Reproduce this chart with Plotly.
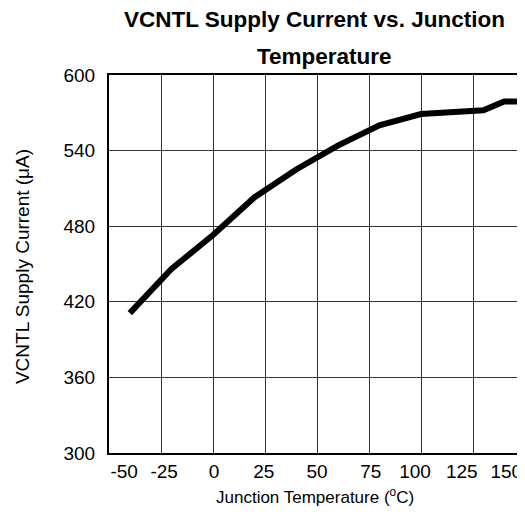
import plotly.graph_objects as go

# Data
temp_c = [-40, -20, 0, 20, 40, 60, 80, 100, 120, 130, 140, 150]
supply_ua = [411, 446, 473, 503, 525, 544, 560, 569, 571, 572, 579, 579]

x_labels = ["-50", "-25", "0", "25", "50", "75", "100", "125", "150"]
x_label_pos = [-42.7, -23.5, 0.5, 24.4, 50, 75.9, 97.1, 119.6, 141]
y_ticks = [300, 360, 420, 480, 540, 600]

FONT = "Liberation Sans, Arial, sans-serif"

fig = go.Figure()
fig.add_trace(go.Scatter(
    x=temp_c, y=supply_ua, mode="lines",
    line=dict(color="black", width=6),
    showlegend=False, hoverinfo="skip",
))
# invisible helper trace to activate the label axis
fig.add_trace(go.Scatter(x=[None], y=[None], xaxis="x2", mode="lines",
                         showlegend=False, hoverinfo="skip"))

fig.update_layout(
    width=517, height=509,
    margin=dict(l=101, r=0, t=67, b=64),
    paper_bgcolor="white", plot_bgcolor="white",
    font=dict(family=FONT, color="black"),
    xaxis=dict(
        range=[-50, 150], tick0=-50, dtick=25,
        showgrid=True, gridcolor="#333333", gridwidth=1,
        showticklabels=False, ticks="",
        showline=True, linecolor="black", linewidth=2, mirror=True,
        zeroline=False, fixedrange=True,
    ),
    xaxis2=dict(
        overlaying="x", anchor="y", side="bottom",
        range=[-50, 150], tickvals=x_label_pos, ticktext=x_labels,
        showgrid=False, zeroline=False, showline=False, ticks="",
        tickfont=dict(size=19, family=FONT, color="black"),
        ticklabelstandoff=5, fixedrange=True,
    ),
    yaxis=dict(
        range=[300, 600], tickvals=y_ticks,
        showgrid=True, gridcolor="#333333", gridwidth=1,
        ticks="", ticklabelstandoff=8,
        tickfont=dict(size=19, family=FONT, color="black"),
        showline=True, linecolor="black", linewidth=2,
        zeroline=False, fixedrange=True,
    ),
)

fig.add_annotation(text="<b>VCNTL Supply Current vs. Junction</b>",
                   xref="paper", yref="paper", x=0.495, y=1.148,
                   xanchor="center", yanchor="middle", showarrow=False,
                   font=dict(size=22.5, family=FONT, color="black"))
fig.add_annotation(text="<b>Temperature</b>",
                   xref="paper", yref="paper", x=0.517, y=1.049,
                   xanchor="center", yanchor="middle", showarrow=False,
                   font=dict(size=22.5, family=FONT, color="black"))
fig.add_annotation(text="VCNTL Supply Current (μA)",
                   xref="paper", yref="paper", x=-0.209, y=0.492,
                   xanchor="center", yanchor="middle", textangle=-90,
                   showarrow=False,
                   font=dict(size=19, family=FONT, color="black"))
fig.add_annotation(text="Junction Temperature (<sup>o</sup>C)",
                   xref="paper", yref="paper", x=0.495, y=-0.114,
                   xanchor="center", yanchor="middle", showarrow=False,
                   font=dict(size=17, family=FONT, color="black"))

fig.write_html("out.html")
